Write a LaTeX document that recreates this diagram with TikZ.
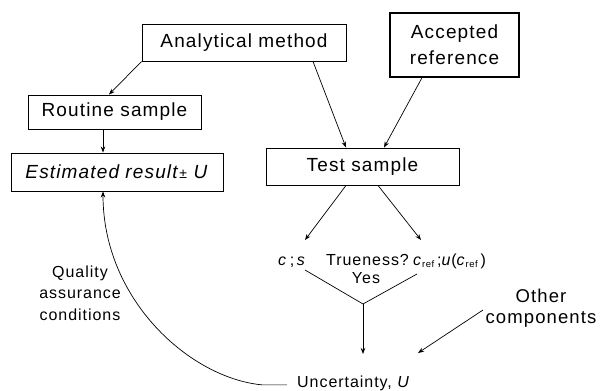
\documentclass[tikz,border=0pt]{standalone}
\usepackage{fontspec}
\setmainfont{Liberation Sans}[LetterSpace=6]
\usetikzlibrary{arrows.meta}
\newcommand\bigf{\fontsize{19}{22}\selectfont}
\newcommand\midf{\fontsize{16}{21.5}\selectfont}
\newcommand\myref{\raisebox{-2.5pt}{\fontsize{9.5}{9.5}\selectfont ref}}
\begin{document}
\begin{tikzpicture}[x=1pt,y=-1pt,
  box/.style={draw, line width=0.9pt, inner sep=0pt, font=\bigf},
  lbl/.style={inner sep=0pt, font=\midf},
  arr/.style={line width=0.7pt, -{Stealth[length=6pt,width=4.5pt]}},
  ln/.style={line width=0.7pt}]
\useasboundingbox[fill=white] (0,0) rectangle (601,390);
% boxes
\node[box, minimum width=204pt, minimum height=37pt] (am) at (244,42.5) {Analytical method};
\node[box, line width=1.4pt, minimum width=129pt, minimum height=64pt, align=center, font=\fontsize{19}{26}\selectfont] (acc) at (454.5,45) {Accepted\\reference};
\node[box, minimum width=173pt, minimum height=34pt] (rs) at (114.5,112) {Routine sample};
\node[box, minimum width=212pt, minimum height=38pt] (er) at (117,172) {\textit{Estimated result}{\fontsize{14}{14}\selectfont ±} \textit{U}};
\node[box, minimum width=193pt, minimum height=37pt] (ts) at (362.5,166.5) {Test sample};
% labels
\node[lbl, anchor=base west] (cs) at (278,265) {\textit{c}\,;\,\textit{s}};
\node[lbl, anchor=base west] (tr) at (326,265) {Trueness?};
\node[lbl, anchor=base west] (cr) at (413,265) {\textit{c}\myref\,;\textit{u}(\textit{c}\myref\,)};
\node[lbl, anchor=base] (yes) at (366,283) {Yes};
\node[lbl, anchor=base west] (unc) at (297,387) {Uncertainty, \textit{U}};
\node[lbl, anchor=base, align=center] (qa) at (80,320) {Quality\\assurance\\conditions};
\node[lbl, anchor=base, align=center, font=\fontsize{18.5}{21}\selectfont] (oc) at (541,323) {Other\\components};
% coordinates
\coordinate (tl) at (305,240);
\coordinate (tr2) at (421,240);
\coordinate (vl) at (305,270);
\coordinate (vm) at (363,304);
\coordinate (vr) at (417,274);
\coordinate (ud) at (363,354);
\coordinate (os) at (483,310);
\coordinate (oe) at (418,353);
% connectors
\draw[arr] (am.south west) -- ([xshift=-5.5pt]rs.north);
\draw[arr] ([xshift=-11.5pt]rs.south) -- ([xshift=-14pt]er.north);
\draw[arr] ([xshift=69pt]am.south) -- ([xshift=-16.5pt]ts.north);
\draw[arr] ([xshift=-32.5pt]acc.south) -- ([xshift=21.5pt]ts.north);
\draw[arr] ([xshift=-16.5pt]ts.south) -- (tl);
\draw[arr] ([xshift=15.5pt]ts.south) -- (tr2);
\draw[ln] (vl) -- (vm) -- (vr);
\draw[arr] (vm) -- (ud);
\draw[arr] (os) -- (oe);
\draw[arr] ([xshift=-10pt,yshift=-2pt]unc.west) -- ++(-25,0) .. controls (190,378) and (103,300) .. ([xshift=-14pt]er.south);
\end{tikzpicture}
\end{document}
